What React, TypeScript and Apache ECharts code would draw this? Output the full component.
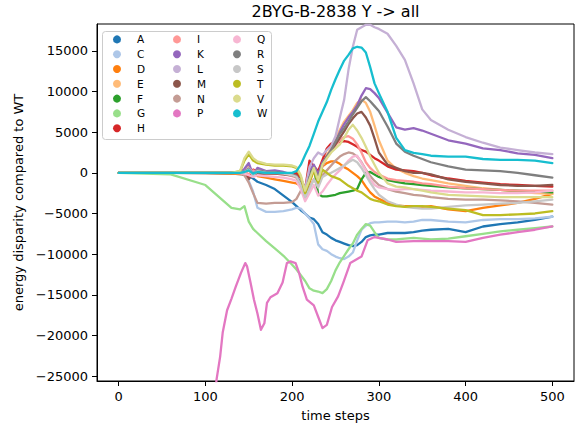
import React, { useEffect, useRef } from "react";
import * as echarts from "echarts";

// shared time steps for most series
const steps = [0, 60, 100, 130, 140, 145, 150, 155, 160, 170, 180, 190, 200, 205, 210, 215, 220, 225, 230, 235, 240, 245, 250, 255, 260, 265, 270, 275, 280, 285, 290, 295, 300, 310, 320, 330, 340, 350, 360, 380, 400, 420, 440, 460, 480, 500];

const A = [0, 0, -50, -100, -150, -200, -400, -700, -1100, -1500, -2000, -2800, -3600, -4100, -4600, -5000, -5500, -5700, -6300, -7300, -7600, -8000, -8300, -8500, -8700, -8900, -9000, -8900, -8500, -7900, -7700, -7600, -7600, -7400, -7400, -7400, -7300, -7100, -7000, -6900, -7300, -6600, -6300, -6100, -5800, -5400];
const C = [0, 0, 0, -50, -100, -300, -1000, -2300, -4300, -4800, -4800, -4700, -4500, -4300, -4400, -5000, -5600, -6300, -8800, -9400, -9600, -10000, -10300, -10500, -10600, -10300, -9800, -8300, -7000, -6500, -6200, -6100, -6100, -6000, -6000, -6100, -6000, -5800, -5800, -6000, -6100, -5800, -5700, -5700, -5600, -5400];
const D = [0, 0, -50, -100, -150, -200, -300, 200, -400, -600, -800, -1000, -1200, -1300, -1600, -2500, -1200, 300, -500, 800, 1200, 1400, 1400, 1100, 700, 400, 0, -400, -900, -1700, -2400, -2900, -3200, -3700, -4000, -4100, -4100, -4200, -4100, -4500, -4700, -4300, -4000, -3700, -3200, -2600];
const E = [0, 0, 0, 0, 0, 300, 800, 0, 300, 200, 100, -100, -300, -500, -1200, -2200, -800, 800, -300, 1200, 2200, 3000, 4200, 5300, 6300, 7000, 7700, 8600, 9000, 8600, 7500, 5800, 4000, 1500, 500, 0, -400, -700, -900, -1300, -1600, -1900, -2100, -2300, -2500, -2600];
const F = [0, 0, 0, 0, 0, 100, 300, 0, 100, 100, 0, 0, -100, -300, -800, -2000, 0, 800, -2600, -2900, -2900, -2800, -2700, -2500, -2400, -2300, -2200, -2000, -800, 0, 100, -200, -500, -900, -1100, -1300, -1400, -1500, -1600, -1800, -1900, -2000, -2100, -2200, -2300, -2400];
const G = [0, -200, -1500, -4300, -4500, -4100, -6000, -6900, -7400, -8400, -9300, -10200, -11300, -11900, -12600, -13300, -14200, -14500, -14600, -14800, -14300, -13300, -12000, -11000, -10200, -9400, -8700, -7600, -6900, -6300, -6500, -7300, -8000, -8200, -8200, -8100, -8000, -8100, -8200, -8100, -7800, -7500, -7200, -7000, -6800, -6600];
const H = [0, 0, 0, 0, 0, 300, -500, 400, 200, 100, 0, -100, -200, 0, -800, -2000, 1500, 800, 200, 1600, 3000, 3600, 3700, 3800, 3900, 3800, 3500, 3200, 2800, 2600, 2200, 1800, 1500, 800, 400, 300, 200, 0, -300, -700, -1000, -1200, -1400, -1500, -1600, -1700];
const I = [0, 0, 0, 0, 0, 200, -200, 300, 100, 0, -100, -200, -400, -600, -1300, -2600, -600, 500, -500, 800, 1800, 2600, 3400, 4000, 4400, 4500, 4200, 3500, 2500, 1300, 600, 100, -200, -700, -900, -1000, -1100, -1300, -1400, -1700, -1900, -2000, -2100, -2200, -2200, -2200];
const K = [0, 0, 0, 0, 0, 500, 1200, -300, 600, 200, 300, 100, -200, -400, -1200, -2400, 300, 1000, -200, 1300, 2000, 2800, 3800, 5000, 6000, 6800, 7500, 8300, 9500, 10400, 10300, 9800, 9200, 7400, 5600, 5300, 5500, 5200, 4800, 4000, 3600, 3000, 2800, 2400, 2200, 1800];
const L = [0, 0, 0, 0, 0, 200, 600, 0, 300, 100, 0, -100, -300, -500, -1000, -2000, 700, 1800, 2500, 2200, 2800, 3300, 4500, 6800, 9000, 12700, 15500, 17600, 17900, 18200, 18200, 17900, 17700, 17100, 15600, 13900, 11000, 7800, 6500, 5300, 4400, 3700, 3100, 2800, 2500, 2300];
const M = [0, 0, 0, 0, 0, -300, -800, 0, -200, -100, -100, -200, -300, -500, -1500, -3200, -800, 400, -800, 1000, 2000, 2700, 3500, 4300, 5100, 6000, 6700, 7300, 7500, 6800, 5800, 4200, 2500, 1000, 600, 200, 0, 0, -200, -800, -1100, -1300, -1500, -1600, -1600, -1500];
const N = [0, 0, 0, 0, -50, -300, -1200, -2500, -3700, -3800, -3700, -3700, -3600, -3200, -2200, -2800, -1800, -800, -1500, -300, 300, 900, 1500, 2000, 2300, 2500, 2400, 2000, 1300, 400, -400, -1000, -1500, -2000, -2300, -2500, -2700, -2800, -3000, -3200, -3300, -3300, -3400, -3500, -3700, -3900];
const Q = [0, 0, 0, 0, -50, -100, -300, -500, -300, -400, -500, -600, -800, -1000, -2000, -3500, -2500, -1500, -2800, -2300, -1500, -800, -200, 300, 900, 1500, 2000, 2100, 1200, 300, -800, -1500, -1800, -2000, -2100, -2000, -2000, -2100, -2200, -2300, -2400, -2400, -2500, -2500, -2400, -2200];
const R = [0, 0, 0, 0, 0, 200, 500, -200, 300, 100, 100, 0, -200, -400, -1300, -2800, -500, 600, -600, 1100, 2000, 2800, 3800, 4800, 5500, 6300, 7200, 8000, 8800, 9300, 8800, 8200, 7600, 5700, 3600, 2600, 2100, 1700, 1300, 800, 400, 300, 200, 0, -300, -600];
const S = [0, 0, 0, 0, 0, 100, 400, -300, 200, 0, 0, -100, -300, -500, -1500, -3000, -2000, -800, -1800, -500, -200, 0, 300, 600, 900, 1300, 1600, 1300, 600, -300, -1200, -2000, -2700, -3500, -3900, -4200, -4300, -4400, -4400, -4200, -4000, -3900, -3800, -3700, -3500, -3300];
const T = [0, 0, 0, 0, 200, 1500, 2300, 1500, 1200, 1000, 900, 900, 800, 600, -500, -2500, -1000, 300, -1200, 400, 0, -400, -600, -800, -1200, -1600, -1900, -2200, -2400, -2800, -3200, -3400, -3500, -3900, -4100, -4200, -4100, -4100, -4200, -4400, -4600, -5200, -5200, -5100, -5000, -4700];
const V = [0, 0, 0, 0, 200, 1800, 2600, 1800, 1400, 1100, 1000, 1000, 900, 700, -300, -2200, -800, 600, -900, 1000, 1800, 2500, 3000, 3500, 4300, 5300, 5900, 5200, 4300, 3200, 2000, 1000, 0, -1300, -1700, -1800, -2000, -2200, -2400, -2700, -2800, -2900, -3000, -3000, -3000, -3000];
const W = [0, 0, 0, 0, 0, 100, 300, -100, 100, 0, 0, 0, 0, 200, 1000, 2200, 3300, 4800, 6300, 7500, 8700, 10200, 11500, 12700, 13800, 14500, 15300, 15500, 15400, 14800, 13000, 11000, 9800, 7500, 4300, 2800, 2450, 2300, 2100, 2000, 2000, 1700, 1600, 1600, 1500, 1200];

// P has its own time steps (it enters from below the axis)
const pSteps = [110, 113, 117, 120, 125, 130, 135, 141, 146, 148, 152, 156, 160, 164, 168, 171, 175, 183, 189, 194, 198, 204, 208, 212, 217, 225, 230, 235, 240, 246, 253, 259, 267, 275, 280, 287, 295, 310, 320, 340, 360, 380, 400, 420, 440, 460, 480, 500];
const P = [-28000, -25300, -22600, -19600, -16900, -15500, -14000, -12300, -11100, -11500, -13500, -15600, -17300, -19300, -18500, -16000, -15300, -14800, -13500, -11100, -10900, -11100, -12300, -14000, -15600, -16300, -17700, -19100, -18700, -16500, -15200, -13500, -11100, -10600, -10300, -8300, -7900, -8200, -8500, -8400, -8400, -8400, -8500, -8000, -7600, -7300, -7000, -6600];

const names = ["A", "C", "D", "E", "F", "G", "H", "I", "K", "L", "M", "N", "P", "Q", "R", "S", "T", "V", "W"];
const valueSets: Record<string, number[]> = { A, C, D, E, F, G, H, I, K, L, M, N, P, Q, R, S, T, V, W };
const colors = ["#1f77b4", "#aec7e8", "#ff7f0e", "#ffbb78", "#2ca02c", "#98df8a", "#d62728", "#ff9896", "#9467bd", "#c5b0d5", "#8c564b", "#c49c94", "#e377c2", "#f7b6d2", "#7f7f7f", "#c7c7c7", "#bcbd22", "#dbdb8d", "#17becf"];
const legendColumns = [
  ["A", "C", "D", "E", "F", "G", "H"],
  ["I", "K", "L", "M", "N", "P"],
  ["Q", "R", "S", "T", "V", "W"],
];
const xTicks = [0, 100, 200, 300, 400, 500];
const yTicks = [-25000, -20000, -15000, -10000, -5000, 0, 5000, 10000, 15000];

const FONT = "DejaVu Sans";
const fmt = (v: number) => (v < 0 ? "\u2212" + Math.abs(v) : String(v));

export default function App() {
  const ref = useRef<HTMLDivElement>(null);
  useEffect(() => {
    if (!ref.current) return;
    const chart = echarts.init(ref.current, undefined, { renderer: "svg" });
    const series = names.map((name, i) => {
      const vals = valueSets[name];
      const ts = name === "P" ? pSteps : steps;
      return {
        name,
        type: "line",
        data: ts.map((t, j) => [t, vals[j]]),
        showSymbol: false,
        symbol: "circle",
        color: colors[i],
        lineStyle: { width: 2.3, color: colors[i], join: "round", cap: "round" },
        clip: true,
        z: 2,
      };
    });
    const colLefts = [113, 173, 233];
    const legends = legendColumns.map((col, ci) => ({
      data: col,
      orient: "vertical",
      left: colLefts[ci],
      top: 32,
      padding: 0,
      itemGap: 0,
      itemWidth: 30,
      itemHeight: 8,
      icon: "circle",
      selectedMode: false,
      z: 6,
      textStyle: { fontFamily: FONT, fontSize: 10.5, color: "#000", lineHeight: 14.8 },
    }));
    chart.setOption({
      animation: false,
      backgroundColor: "#fff",
      title: {
        text: "2BYG-B-2838 Y -> all",
        left: 335.5,
        top: 3,
        padding: 0,
        textAlign: "center",
        textStyle: { fontFamily: FONT, fontSize: 16, fontWeight: "normal", color: "#000" },
      },
      legend: legends,
      graphic: {
        elements: [
          {
            type: "rect",
            left: 102,
            top: 31,
            z: 5,
            shape: { width: 169, height: 108, r: 3 },
            style: { fill: "rgba(255,255,255,0.8)", stroke: "#cccccc", lineWidth: 1 },
          },
        ],
      },
      grid: {
        left: 97,
        right: 6,
        top: 24,
        bottom: 47,
        show: true,
        borderColor: "#000",
        borderWidth: 1,
      },
      xAxis: {
        type: "value",
        min: -25,
        max: 525,
        name: "time steps",
        nameLocation: "middle",
        nameGap: 28,
        nameTextStyle: { fontFamily: FONT, fontSize: 13, color: "#000" },
        axisLine: { show: true, onZero: false, lineStyle: { color: "#000", width: 1 } },
        axisTick: { show: true, inside: false, length: 5, customValues: xTicks, lineStyle: { color: "#000" } },
        axisLabel: { customValues: xTicks, margin: 9, fontFamily: FONT, fontSize: 13, color: "#000", formatter: fmt },
        splitLine: { show: false },
      },
      yAxis: {
        type: "value",
        min: -25600,
        max: 18300,
        name: "energy disparity compared to WT",
        nameLocation: "middle",
        nameGap: 64,
        nameTextStyle: { fontFamily: FONT, fontSize: 13, color: "#000" },
        axisLine: { show: true, onZero: false, lineStyle: { color: "#000", width: 1 } },
        axisTick: { show: true, inside: false, length: 5, customValues: yTicks, lineStyle: { color: "#000" } },
        axisLabel: { customValues: yTicks, margin: 9, fontFamily: FONT, fontSize: 13, color: "#000", formatter: fmt },
        splitLine: { show: false },
      },
      series,
    });
    return () => chart.dispose();
  }, []);
  return (
    <div
      ref={ref}
      style={{ position: "fixed", left: 0, top: 0, width: 580, height: 428, background: "#fff" }}
    />
  );
}
